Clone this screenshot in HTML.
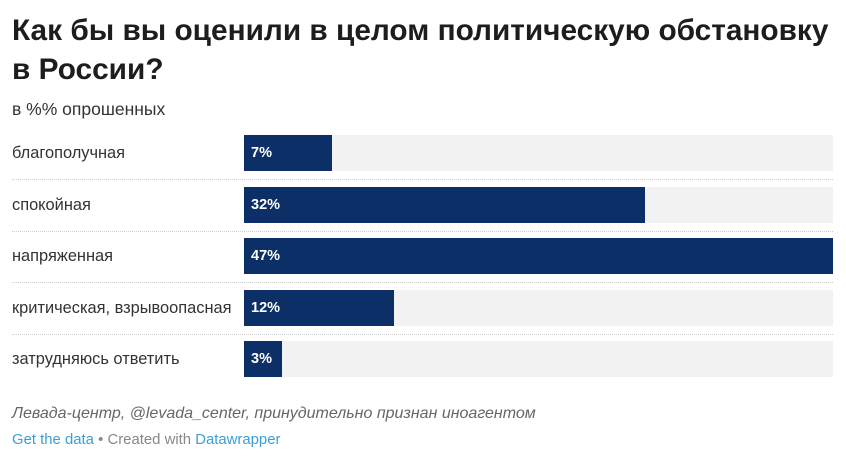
<!DOCTYPE html>
<html><head><meta charset="utf-8">
<style>
body{margin:0;width:846px;height:456px;background:#fff;font-family:"Liberation Sans","DejaVu Sans",sans-serif;position:relative;overflow:hidden}
.t{position:absolute;white-space:nowrap}
#title{left:12px;top:11px;font-size:29.8px;font-weight:bold;color:#1d1d1d;line-height:39px}
#sub{left:12px;top:99px;font-size:17.5px;color:#333}
.lab{font-size:16.4px;color:#333}
.val{font-size:14.5px;font-weight:bold;color:#fff}
.sep{position:absolute;left:12px;width:821px;border-top:1px dotted #ccc;height:0}
.track{position:absolute;background:#f2f2f2}
.bar{position:absolute;background:#0b2f66}
#src{left:12px;top:405px;font-size:16px;font-style:italic;color:#666}
#foot{left:12px;top:432px;font-size:14.9px;color:#888}
#foot span{color:#3a9fd6}
</style></head><body>
<div id="title" class="t">Как бы вы оценили в целом политическую обстановку<br>в России?</div>
<div id="sub" class="t">в %% опрошенных</div>
<div id="chart"></div>
<div id="src" class="t">Левада-центр, @levada_center, принудительно признан иноагентом</div>
<div id="foot" class="t"><span>Get the data</span> • Created with <span>Datawrapper</span></div>
<script>
const categories=["благополучная","спокойная","напряженная","критическая, взрывоопасная","затрудняюсь ответить"];
const values=[7,32,47,12,3];
const maxValue=47;
const x0=244,x1=833,top0=135,pitch=51.5,bh=36;
function xScale(v){return x0+(x1-x0)*v/maxValue;}
const c=document.getElementById('chart');
categories.forEach((cat,i)=>{
  const y=top0+i*pitch;
  const tr=document.createElement('div');tr.className='track';
  
  
  tr.style.cssText=`left:${x0}px;top:${y}px;width:${x1-x0}px;height:${bh}px`;c.appendChild(tr);
  const b=document.createElement('div');b.className='bar';
  
  
  b.style.cssText=`left:${x0}px;top:${y}px;width:${xScale(values[i])-x0}px;height:${bh}px`;c.appendChild(b);
  const v=document.createElement('div');v.className='t val';
  
  
  v.textContent=values[i]+'%';v.style.cssText=`left:${x0+7}px;top:${y+10}px`;c.appendChild(v);
  const l=document.createElement('div');l.className='t lab';
  
  
  l.textContent=cat;l.style.cssText=`left:12px;top:${y+9}px`;c.appendChild(l);
  if(i<categories.length-1){const s=document.createElement('div');s.className='sep';
  
  
  s.style.top=(y+bh+8)+'px';c.appendChild(s);}
});
</script>
</body></html>
